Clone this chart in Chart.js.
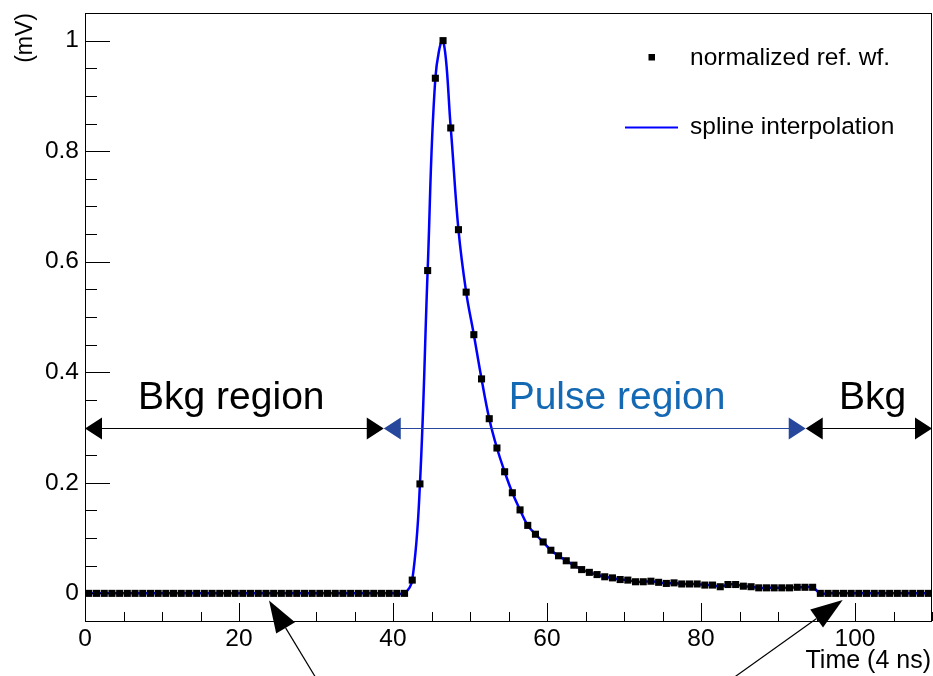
<!DOCTYPE html>
<html>
<head>
<meta charset="utf-8">
<title>Normalized reference waveform</title>
<script src="https://cdn.jsdelivr.net/npm/chart.js@4.4.0/dist/chart.umd.min.js"></script>
<style>
  html, body { margin: 0; padding: 0; background: #fff; }
  #wrap { width: 933px; height: 676px; position: relative; }
</style>
</head>
<body>
<div id="wrap"><canvas id="wf"></canvas></div>
<script>
// ===== DATA =====
// normalized reference waveform, one value per 4 ns bin (bin centres at i + 0.5)
const refWaveform = [
  0, 0, 0, 0, 0, 0, 0, 0, 0, 0,
  0, 0, 0, 0, 0, 0, 0, 0, 0, 0,
  0, 0, 0, 0, 0, 0, 0, 0, 0, 0,
  0, 0, 0, 0, 0, 0, 0, 0, 0, 0,
  0, 0, 0.024, 0.198, 0.584, 0.932, 1.0, 0.842, 0.658, 0.545,
  0.468, 0.388, 0.316, 0.263, 0.220, 0.182, 0.151, 0.123, 0.107, 0.093,
  0.078, 0.068, 0.059, 0.051, 0.043, 0.038, 0.034, 0.030, 0.028, 0.025,
  0.024, 0.021, 0.021, 0.022, 0.020, 0.018, 0.019, 0.017, 0.017, 0.017,
  0.015, 0.015, 0.012, 0.016, 0.016, 0.013, 0.012, 0.010, 0.010, 0.010,
  0.010, 0.010, 0.011, 0.011, 0.011, 0, 0, 0, 0, 0,
  0, 0, 0, 0, 0, 0, 0, 0, 0, 0
];
const xTicks = [0, 20, 40, 60, 80, 100];
const yTicks = [0, 0.2, 0.4, 0.6, 0.8, 1];
const seriesLabels = ['normalized ref. wf.', 'spline interpolation'];
const regionEdges = [0, 38.8, 93.6, 110];
const regionLabels = ['Bkg region', 'Pulse region', 'Bkg'];

// ===== ANNOTATION PLACEMENT (data coordinates) =====
const regionLabelX = [19, 69.1, 102.3];
const regionLabelY = 0.334;
const regionArrowY = 0.3;
const regionColors = ['#000000', '#1469b4', '#000000'];
const regionArrowColors = ['#000000', '#26479c', '#000000'];
const pointerTips = [[23.9, -0.013], [98.4, -0.012]];
const pointerTails = [[29.9, -0.151], [84.4, -0.151]];

const FONT = "'Liberation Sans', Arial, Helvetica, sans-serif";

// ROOT-like frame, inward ticks, titles, legend and annotations
const rootFrame = {
  id: 'rootFrame',
  afterDraw(chart) {
    const { ctx, chartArea: a, scales: { x, y } } = chart;
    ctx.save();

    // frame box
    ctx.strokeStyle = '#000';
    ctx.lineWidth = 1;
    ctx.strokeRect(a.left + 0.5, a.top + 0.5, a.right - a.left - 1, a.bottom - a.top);

    // inward tick marks
    ctx.beginPath();
    for (let v = 0; v <= 110; v += 5) {
      const px = Math.round(x.getPixelForValue(v)) + 0.5;
      const len = v % 20 === 0 ? 18 : 9;
      ctx.moveTo(px, a.bottom);
      ctx.lineTo(px, a.bottom - len);
    }
    for (let k = -1; k <= 21; k++) {
      const py = Math.round(y.getPixelForValue(k * 0.05)) + 0.5;
      const len = k % 4 === 0 ? 25 : 12;
      ctx.moveTo(a.left, py);
      ctx.lineTo(a.left + len, py);
    }
    ctx.stroke();

    // axis titles
    ctx.fillStyle = '#000';
    ctx.font = '25px ' + FONT;
    ctx.textAlign = 'right';
    ctx.textBaseline = 'alphabetic';
    ctx.fillText('Time (4 ns)', 931, 668);
    ctx.font = '23px ' + FONT;
    ctx.save();
    ctx.translate(32, 13);
    ctx.rotate(-Math.PI / 2);
    ctx.fillText('(mV)', 0, 0);
    ctx.restore();

    // legend
    ctx.textAlign = 'left';
    ctx.font = '24.5px ' + FONT;
    ctx.fillRect(648.5, 54, 6.5, 6.5);
    ctx.fillText(seriesLabels[0], 690, 65);
    ctx.strokeStyle = '#0000ff';
    ctx.lineWidth = 2;
    ctx.beginPath();
    ctx.moveTo(625, 127.5);
    ctx.lineTo(678, 127.5);
    ctx.stroke();
    ctx.fillText(seriesLabels[1], 690, 133.5);

    // region labels and double arrows
    const ay = Math.round(y.getPixelForValue(regionArrowY)) + 0.5;
    ctx.font = '39px ' + FONT;
    ctx.textAlign = 'center';
    regionLabels.forEach((label, i) => {
      ctx.fillStyle = regionColors[i];
      ctx.fillText(label, x.getPixelForValue(regionLabelX[i]), y.getPixelForValue(regionLabelY));

      const x0 = x.getPixelForValue(regionEdges[i]);
      const x1 = x.getPixelForValue(regionEdges[i + 1]);
      const col = regionArrowColors[i];
      ctx.strokeStyle = col;
      ctx.fillStyle = col;
      ctx.lineWidth = 1;
      ctx.beginPath();
      ctx.moveTo(x0 + 10, ay);
      ctx.lineTo(x1 - 10, ay);
      ctx.stroke();
      ctx.beginPath();
      ctx.moveTo(x0, ay);
      ctx.lineTo(x0 + 17, ay - 11);
      ctx.lineTo(x0 + 17, ay + 11);
      ctx.closePath();
      ctx.moveTo(x1, ay);
      ctx.lineTo(x1 - 17, ay - 11);
      ctx.lineTo(x1 - 17, ay + 11);
      ctx.closePath();
      ctx.fill();
    });

    // pointer arrows below the baseline
    ctx.strokeStyle = '#000';
    ctx.fillStyle = '#000';
    pointerTips.forEach((tip, i) => {
      const tx = x.getPixelForValue(tip[0]), ty = y.getPixelForValue(tip[1]);
      const sx = x.getPixelForValue(pointerTails[i][0]), sy = y.getPixelForValue(pointerTails[i][1]);
      const len = Math.hypot(tx - sx, ty - sy);
      const ux = (tx - sx) / len, uy = (ty - sy) / len;
      const bx = tx - ux * 32, by = ty - uy * 32;
      ctx.lineWidth = 1.2;
      ctx.beginPath();
      ctx.moveTo(sx, sy);
      ctx.lineTo(bx, by);
      ctx.stroke();
      ctx.beginPath();
      ctx.moveTo(tx, ty);
      ctx.lineTo(bx - uy * 11, by + ux * 11);
      ctx.lineTo(bx + uy * 11, by - ux * 11);
      ctx.closePath();
      ctx.fill();
    });

    ctx.restore();
  }
};

const points = refWaveform.map((v, i) => ({ x: i + 0.5, y: v }));

new Chart(document.getElementById('wf'), {
  type: 'line',
  data: {
    datasets: [
      {
        label: seriesLabels[0],
        data: points,
        showLine: false,
        pointStyle: 'rect',
        pointRadius: 5,
        pointBackgroundColor: '#000',
        pointBorderWidth: 0,
        order: 0
      },
      {
        label: seriesLabels[1],
        data: points,
        borderColor: '#0000ff',
        borderWidth: 2.5,
        tension: 0.4,
        pointRadius: 0,
        fill: false,
        order: 1
      }
    ]
  },
  options: {
    responsive: true,
    maintainAspectRatio: false,
    animation: false,
    devicePixelRatio: 1,
    layout: { autoPadding: false, padding: { top: 13, right: 1, left: 0, bottom: 0 } },
    plugins: {
      legend: { display: false },
      tooltip: { enabled: false }
    },
    scales: {
      x: {
        type: 'linear',
        min: 0,
        max: 110,
        grid: { display: false, drawTicks: false },
        border: { display: false },
        afterFit(s) {
          s.height = 55;
          s.paddingLeft = 0;
          s.paddingRight = 0;
        },
        afterBuildTicks(s) { s.ticks = xTicks.map(v => ({ value: v })); },
        ticks: {
          autoSkip: false,
          maxRotation: 0,
          padding: 4,
          color: '#000',
          font: { family: FONT, size: 24.5 },
          callback: v => String(v)
        }
      },
      y: {
        type: 'linear',
        min: -0.05,
        max: 1.05,
        grid: { display: false, drawTicks: false },
        border: { display: false },
        afterFit(s) {
          s.width = 85;
          s.paddingTop = 0;
          s.paddingBottom = 0;
        },
        afterBuildTicks(s) { s.ticks = yTicks.map(v => ({ value: v })); },
        ticks: {
          autoSkip: false,
          padding: 6,
          color: '#000',
          font: { family: FONT, size: 24.5 },
          callback: v => String(Math.round(v * 10) / 10)
        }
      }
    }
  },
  plugins: [rootFrame]
});
</script>
</body>
</html>
